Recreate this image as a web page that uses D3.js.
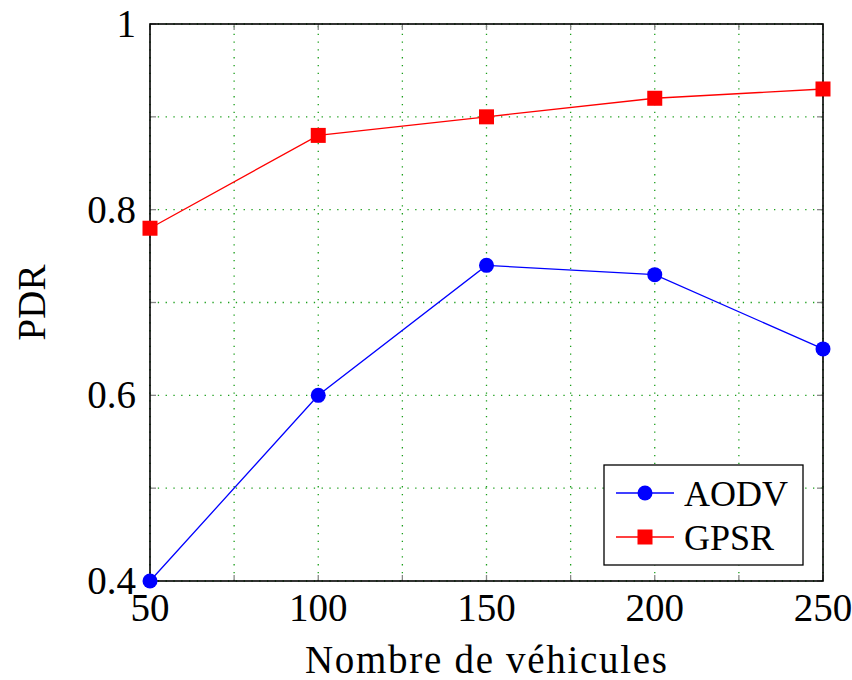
<!DOCTYPE html>
<html lang="en">
<head>
    <meta charset="UTF-8">
    <title>PDR</title>
    <script src="https://d3js.org/d3.v7.min.js"></script>
    <style>
        body { margin: 0; background: white; }
        svg text { font-family: "Liberation Serif", "Times New Roman", serif; fill: #000; }
        .grid line { stroke: #1a9e1a; stroke-width: 1.3; stroke-dasharray: 1.3 6.5; }
    </style>
</head>
<body>
<div id="chart"></div>
<script>
    // data
    const vehicles = [50, 100, 150, 200, 250];
    const aodv = [0.40, 0.60, 0.74, 0.73, 0.65];
    const gpsr = [0.78, 0.88, 0.90, 0.92, 0.93];
    const xTickLabels = [50, 100, 150, 200, 250];
    const yTickLabels = [0.4, 0.6, 0.8, 1];
    const gridX = [50, 75, 100, 125, 150, 175, 200, 225, 250];
    const gridY = [0.4, 0.5, 0.6, 0.7, 0.8, 0.9, 1.0];

    const width = 852, height = 680;
    const margin = { top: 24, right: 29, bottom: 99, left: 150 };

    const svg = d3.select("#chart").append("svg")
        .attr("width", width)
        .attr("height", height);

    const x = d3.scaleLinear().domain([50, 250]).range([margin.left, width - margin.right]);
    const y = d3.scaleLinear().domain([0.4, 1]).range([height - margin.bottom, margin.top]);

    // grid
    const grid = svg.append("g").attr("class", "grid");
    grid.selectAll(".gx").data(gridX).enter().append("line")
        .attr("x1", d => x(d)).attr("x2", d => x(d))
        .attr("y1", y(0.4)).attr("y2", y(1));
    grid.selectAll(".gy").data(gridY).enter().append("line")
        .attr("y1", d => y(d)).attr("y2", d => y(d))
        .attr("x1", x(50)).attr("x2", x(250));

    // inward ticks on all four sides
    const tickLen = 6;
    const ticks = svg.append("g").attr("stroke", "#888").attr("stroke-width", 1.3);
    gridX.forEach(v => {
        ticks.append("line").attr("x1", x(v)).attr("x2", x(v)).attr("y1", y(0.4)).attr("y2", y(0.4) - tickLen);
        ticks.append("line").attr("x1", x(v)).attr("x2", x(v)).attr("y1", y(1)).attr("y2", y(1) + tickLen);
    });
    gridY.forEach(v => {
        ticks.append("line").attr("y1", y(v)).attr("y2", y(v)).attr("x1", x(50)).attr("x2", x(50) + tickLen);
        ticks.append("line").attr("y1", y(v)).attr("y2", y(v)).attr("x1", x(250)).attr("x2", x(250) - tickLen);
    });

    // frame
    svg.append("rect")
        .attr("x", x(50)).attr("y", y(1))
        .attr("width", x(250) - x(50)).attr("height", y(0.4) - y(1))
        .attr("fill", "none").attr("stroke", "#000").attr("stroke-width", 1.6);

    // tick labels
    svg.append("g").selectAll("text").data(xTickLabels).enter().append("text")
        .attr("x", d => x(d)).attr("y", y(0.4) + 40)
        .attr("text-anchor", "middle")
        .style("font-size", "39px")
        .text(d => d);
    svg.append("g").selectAll("text").data(yTickLabels).enter().append("text")
        .attr("x", x(50) - 14).attr("y", d => y(d) + 13)
        .attr("text-anchor", "end")
        .style("font-size", "39px")
        .text(d => d);

    // axis titles
    svg.append("text")
        .attr("x", 305).attr("y", 673)
        .attr("textLength", 362)
        .attr("lengthAdjust", "spacing")
        .style("font-size", "39px")
        .text("Nombre de véhicules");
    svg.append("text")
        .attr("transform", `translate(45,${(y(0.4) + y(1)) / 2}) rotate(-90)`)
        .attr("text-anchor", "middle")
        .style("font-size", "39px")
        .text("PDR");

    // series
    const series = [
        { name: "AODV", values: aodv, color: "#0000ff", marker: "circle" },
        { name: "GPSR", values: gpsr, color: "#ff0000", marker: "square" }
    ];
    const line = d3.line().x((d, i) => x(vehicles[i])).y(d => y(d));

    function drawMarker(g, type, cx, cy, color) {
        if (type === "circle") {
            g.append("circle").attr("cx", cx).attr("cy", cy).attr("r", 7.5).attr("fill", color);
        } else {
            g.append("rect").attr("x", cx - 7.5).attr("y", cy - 7.5)
                .attr("width", 15).attr("height", 15).attr("fill", color);
        }
    }

    series.forEach(s => {
        svg.append("path").datum(s.values)
            .attr("d", line)
            .attr("fill", "none")
            .attr("stroke", s.color)
            .attr("stroke-width", 1.3);
        const g = svg.append("g");
        s.values.forEach((v, i) => drawMarker(g, s.marker, x(vehicles[i]), y(v), s.color));
    });

    // legend
    const legend = svg.append("g").attr("transform", "translate(604,465)");
    legend.append("rect")
        .attr("width", 199).attr("height", 100)
        .attr("fill", "white").attr("stroke", "#000").attr("stroke-width", 1.3);
    series.forEach((s, i) => {
        const ly = 28 + i * 44;
        legend.append("line")
            .attr("x1", 12).attr("x2", 70).attr("y1", ly).attr("y2", ly)
            .attr("stroke", s.color).attr("stroke-width", 1.3);
        drawMarker(legend, s.marker, 41, ly, s.color);
        legend.append("text")
            .attr("x", 80).attr("y", ly + 13)
            .style("font-size", "36px")
            .text(s.name);
    });
</script>
</body>
</html>
